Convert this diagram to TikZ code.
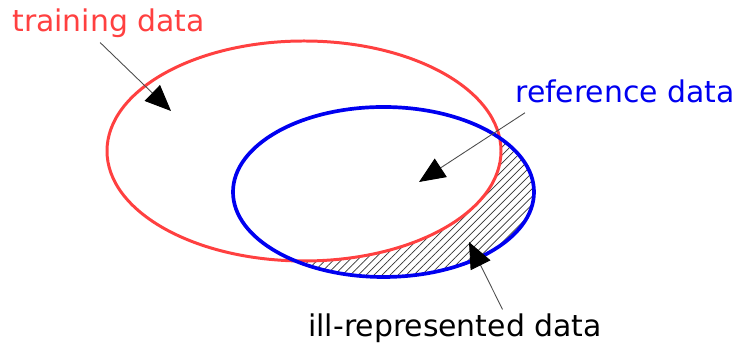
\documentclass[tikz,border=0pt]{standalone}
\usepackage{fontspec}
\setsansfont{DejaVu Sans}
\usetikzlibrary{arrows.meta,patterns.meta}
\definecolor{trainred}{RGB}{255,64,64}
\definecolor{refblue}{RGB}{0,0,240}

\begin{document}
\begin{tikzpicture}[font=\sffamily,
  lbl/.style={font=\sffamily\fontsize{17}{20}\selectfont, inner sep=0pt},
  pointer/.style={-{Triangle[length=0.52cm,width=0.44cm,color=black]}, line width=0.5pt, black!70}]
  \useasboundingbox (0,0) rectangle (14.84,6.94);

  % Hatched part: reference data lying outside the training data
  \begin{scope}
    \clip (7.67,3.10) ellipse (3.01 and 1.70);
    \fill[pattern={Lines[angle=45,distance=3.2pt,line width=0.4pt]}, pattern color=black!80, even odd rule]
      (0,0) rectangle (14.84,6.94) (6.08,3.92) ellipse (3.94 and 2.2);
  \end{scope}

  % Data sets
  \draw[trainred, line width=1.7pt] (6.08,3.92) ellipse (3.94 and 2.2);
  \draw[refblue, line width=2.1pt] (7.67,3.10) ellipse (3.01 and 1.70);

  % Labels
  \node[lbl, text=trainred, anchor=base west] (train) at (0.24,6.30) {training data};
  \node[lbl, text=refblue, anchor=base west] (ref) at (10.30,4.88) {reference data};
  \node[lbl, anchor=base west] (ill) at (6.16,0.20) {ill-represented data};

  % Arrow tips
  \coordinate (trainTip) at (3.42,4.72);
  \coordinate (refTip) at (8.38,3.30);
  \coordinate (illTip) at (9.38,2.10);

  \draw[pointer] ([xshift=-0.17cm, yshift=-0.08cm]train.south) -- (trainTip);
  \draw[pointer] ([xshift=0.2cm, yshift=-0.18cm]ref.south west) -- (refTip);
  \draw[pointer] ([xshift=0.95cm, yshift=0.09cm]ill.north) -- (illTip);
\end{tikzpicture}
\end{document}
